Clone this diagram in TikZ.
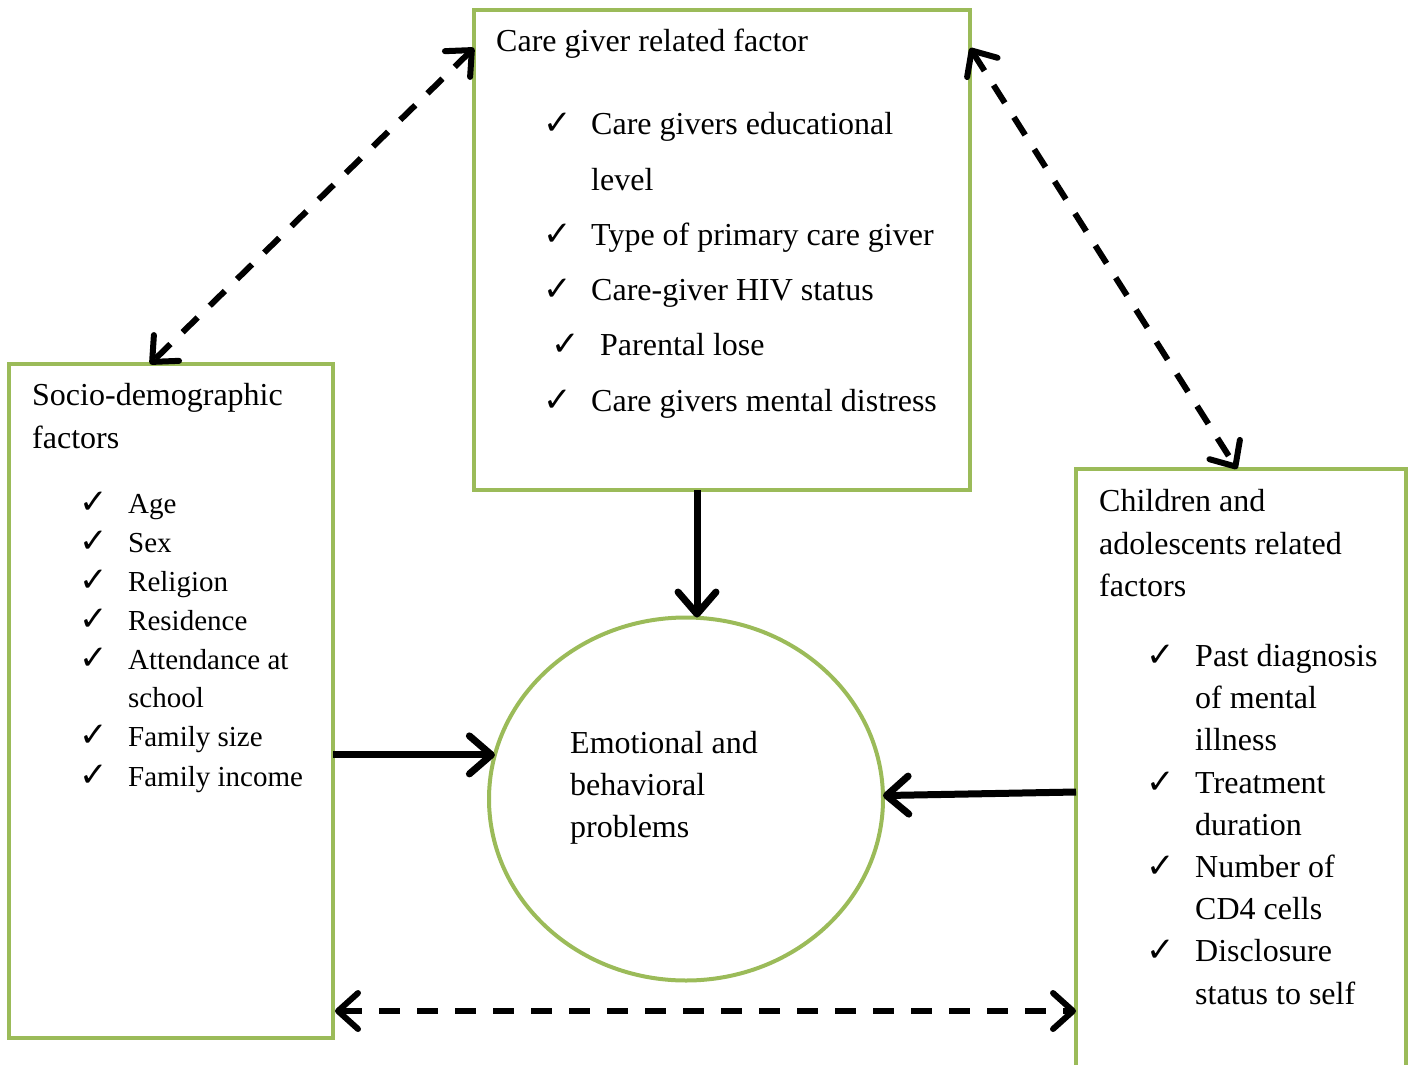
\documentclass[tikz,border=0pt]{standalone}
\usepackage{fontspec}
\setmainfont{Liberation Serif}
\newfontfamily\chkfont{DejaVu Sans}
\usetikzlibrary{arrows.meta,shapes.geometric,calc}
\definecolor{boxgreen}{HTML}{9BBB59}
\begin{document}
\begin{tikzpicture}[x=1pt,y=-1pt,
  box/.style={draw=boxgreen,line width=4pt,rectangle,inner sep=0pt,outer sep=0pt},
  txt/.style={anchor=base west,inner sep=0pt,font=\fontsize{32}{38}\selectfont},
  stxt/.style={anchor=base west,inner sep=0pt,font=\fontsize{29}{35}\selectfont},
  chk/.style={anchor=base west,inner sep=0pt,font=\chkfont\fontsize{34}{40}\selectfont},
  solidarrow/.style={line width=7pt,-{Straight Barb[length=22pt,width=38pt,line cap=round,line join=round]}},
  dasharrow/.style={line width=6pt,dash pattern=on 21pt off 17pt,
    {Straight Barb[length=20pt,width=36pt,line cap=round,line join=round]}-{Straight Barb[length=20pt,width=36pt,line cap=round,line join=round]}}
]
\useasboundingbox (0,0) rectangle (1408,1065);
\begin{scope}
\clip (0,0) rectangle (1408,1065);
% boxes
\node[box,minimum width=496pt,minimum height=480pt] (top) at (722,250) {};
\node[box,minimum width=324pt,minimum height=674pt] (left) at (171,701) {};
\node[box,minimum width=330pt,minimum height=606pt] (right) at (1241,772) {};
\node[draw=boxgreen,line width=4pt,ellipse,inner sep=0pt,outer sep=0pt,minimum width=394pt,minimum height=363pt] (circ) at (686,799) {};
\end{scope}

% top box text
\node[txt] (th) at (496,52) {Care giver related factor};
\node[chk] (tc1) at (543,134) {✓};
\node[txt] (t1) at (591,134) {Care givers educational};
\node[txt] (t1b) at (591,190) {level};
\node[chk] (tc2) at (543,245) {✓};
\node[txt] (t2) at (591,245) {Type of primary care giver};
\node[chk] (tc3) at (543,300) {✓};
\node[txt] (t3) at (591,300) {Care-giver HIV status};
\node[chk] (tc4) at (551,355) {✓};
\node[txt] (t4) at (600,355) {Parental lose};
\node[chk] (tc5) at (543,411) {✓};
\node[txt] (t5) at (591,411) {Care givers mental distress};

% left box text
\node[txt] (lh1) at (32,405) {Socio-demographic};
\node[txt] (lh2) at (32,448) {factors};
\foreach \n/\y/\t in {1/513/Age,2/552/Sex,3/591/Religion,4/630/Residence,5/669/Attendance at,7/746/Family size,8/786/Family income}{
  \node[chk] (lc\n) at (79,\y) {✓};
  \node[stxt] (l\n) at (128,\y) {\t};
}
\node[stxt] (l6) at (128,707) {school};

% right box text
\node[txt] (rh1) at (1099,511) {Children and};
\node[txt] (rh2) at (1099,554) {adolescents related};
\node[txt] (rh3) at (1099,596) {factors};
\node[chk] (rc1) at (1146,666) {✓};
\node[txt] (r1) at (1195,666) {Past diagnosis};
\node[txt] (r1b) at (1195,708) {of mental};
\node[txt] (r1c) at (1195,750) {illness};
\node[chk] (rc2) at (1146,793) {✓};
\node[txt] (r2) at (1195,793) {Treatment};
\node[txt] (r2b) at (1195,835) {duration};
\node[chk] (rc3) at (1146,877) {✓};
\node[txt] (r3) at (1195,877) {Number of};
\node[txt] (r3b) at (1195,919) {CD4 cells};
\node[chk] (rc4) at (1146,961) {✓};
\node[txt] (r4) at (1195,961) {Disclosure};
\node[txt] (r4b) at (1195,1004) {status to self};

% circle text
\node[txt] (c1) at (570,753) {Emotional and};
\node[txt] (c2) at (570,795) {behavioral};
\node[txt] (c3) at (570,837) {problems};

% connectors
\draw[solidarrow] ([xshift=-25pt]top.south) -- ([xshift=-25pt]top.south |- circ.north);
\draw[solidarrow] (left.east |- circ.167) -- (circ.167);
\draw[solidarrow] ([yshift=-20pt]right.west) -- (circ.1);
\draw[dasharrow] ([yshift=-38pt]top.north west) -- ([xshift=-21pt]left.north);
\draw[dasharrow] ([yshift=-38pt]top.north east) -- ([xshift=-4pt]right.north);
\draw[dasharrow] ([yshift=-310pt,xshift=2pt]left.east) -- ([yshift=-310pt]left.east -| right.west);
\end{tikzpicture}
\end{document}
